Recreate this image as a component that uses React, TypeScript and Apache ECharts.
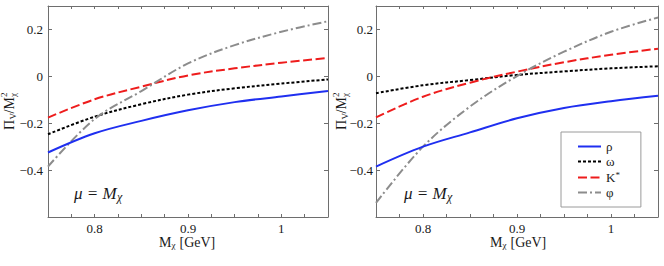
import React, { useEffect, useRef } from "react";
import * as echarts from "echarts";

const xValues = [0.75, 0.8, 0.85, 0.9, 0.95, 1.0, 1.05];

// Left panel
const rhoLeft = [-0.325, -0.243, -0.19, -0.145, -0.11, -0.086, -0.063];
const omegaLeft = [-0.247, -0.172, -0.119, -0.078, -0.051, -0.031, -0.013];
const kstarLeft = [-0.176, -0.098, -0.044, 0.004, 0.034, 0.058, 0.078];
const phiLeft = [-0.385, -0.182, -0.063, 0.055, 0.133, 0.19, 0.235];

// Right panel
const rhoRight = [-0.385, -0.3, -0.239, -0.179, -0.135, -0.106, -0.083];
const omegaRight = [-0.072, -0.038, -0.016, 0.006, 0.021, 0.034, 0.043];
const kstarRight = [-0.175, -0.087, -0.027, 0.02, 0.06, 0.092, 0.118];
const phiRight = [-0.54, -0.3, -0.129, 0.001, 0.105, 0.19, 0.251];

const seriesNames = ["ρ", "ω", "K*", "φ"];
const xTickLabels = ["0.8", "0.9", "1"];
const yTickLabels = ["−0.4", "−0.2", "0", "0.2"];

const FONT = "'Liberation Serif', 'DejaVu Serif', serif";
const FRAME = "#6e6e6e";
const TXT = "#1a1a1a";

const lineStyles: Record<string, any> = {
  "ρ": { color: "#1f2ff0", width: 2, type: "solid" },
  "ω": { color: "#000000", width: 2, type: [3, 2] },
  "K*": { color: "#ee1c1c", width: 2, type: [9, 3.5] },
  "φ": { color: "#8c8c8c", width: 2, type: [9, 3, 2, 3] },
};

function fmtX(v: number) {
  const r = Math.round(v * 1000) / 1000;
  if (r === 0.8) return xTickLabels[0];
  if (r === 0.9) return xTickLabels[1];
  if (r === 1) return xTickLabels[2];
  return "";
}
function fmtY(v: number) {
  const r = Math.round(v * 1000) / 1000;
  if (r === -0.4) return yTickLabels[0];
  if (r === -0.2) return yTickLabels[1];
  if (r === 0) return yTickLabels[2];
  if (r === 0.2) return yTickLabels[3];
  return "";
}

function xAxis(gridIndex: number, position: string, showLabel: boolean) {
  return {
    type: "value",
    gridIndex,
    position,
    min: 0.75,
    max: 1.05,
    interval: 0.025,
    axisLine: { show: true, onZero: false, lineStyle: { color: FRAME, width: 1 } },
    axisTick: { show: true, inside: true, length: 3, lineStyle: { color: FRAME } },
    axisLabel: {
      show: showLabel,
      formatter: fmtX,
      margin: 5,
      color: TXT,
      fontFamily: FONT,
      fontSize: 13,
    },
    splitLine: { show: false },
  };
}
function yAxis(gridIndex: number, position: string, showLabel: boolean, margin: number) {
  return {
    type: "value",
    gridIndex,
    position,
    min: -0.6,
    max: 0.3,
    interval: 0.2,
    axisLine: { show: true, onZero: false, lineStyle: { color: FRAME, width: 1 } },
    axisTick: { show: true, inside: true, length: 4, lineStyle: { color: FRAME } },
    axisLabel: {
      show: showLabel,
      formatter: fmtY,
      margin,
      color: TXT,
      fontFamily: FONT,
      fontSize: 13,
    },
    splitLine: { show: false },
  };
}

function mk(name: string, data: number[], panel: number) {
  return {
    type: "line",
    name,
    xAxisIndex: panel * 2,
    yAxisIndex: panel * 2,
    data: xValues.map((x, i) => [x, data[i]]),
    smooth: 0.35,
    symbol: "none",
    showSymbol: false,
    itemStyle: { color: lineStyles[name].color },
    lineStyle: lineStyles[name],
    z: name === "ρ" ? 3 : 2,
  };
}

function txt(text: string, x: number, y: number, size: number, italic = false, align = "left") {
  const font = `${italic ? "italic " : ""}${size}px ${FONT}`;
  return {
    type: "text",
    x,
    y,
    style: {
      text,
      font,
      fill: TXT,
      textAlign: align,
      textVerticalAlign: "middle",
      align,
      verticalAlign: "middle",
    },
  };
}

function yName(x: number) {
  return {
    type: "group",
    x,
    y: 130,
    rotation: Math.PI / 2,
    children: [
      txt("Π", 0, 0, 14),
      txt("V", 10.5, 4, 9),
      txt("/M", 16.5, 0, 14),
      txt("χ", 33, 4, 9),
      txt("2", 33, -5, 9),
    ],
  };
}

function xName(x: number) {
  return {
    type: "group",
    x,
    y: 242,
    children: [txt("M", 0, 0, 14), txt("χ", 12.5, 3, 9), txt(" [GeV]", 17, 0, 14)],
  };
}

function muText(x: number) {
  return {
    type: "group",
    x,
    y: 193,
    children: [txt("μ = M", 0, 0, 17, true), txt("χ", 43, 4, 12, true)],
  };
}

const option: any = {
  animation: false,
  backgroundColor: "#ffffff",
  grid: [
    { left: 48, top: 6, width: 280, height: 211 },
    { left: 376, top: 6, width: 282, height: 211 },
  ],
  xAxis: [
    xAxis(0, "bottom", true),
    xAxis(0, "top", false),
    xAxis(1, "bottom", true),
    xAxis(1, "top", false),
  ],
  yAxis: [
    yAxis(0, "left", true, 5),
    yAxis(0, "right", false, 5),
    yAxis(1, "left", true, 3),
    yAxis(1, "right", false, 5),
  ],
  legend: {
    data: seriesNames,
    orient: "vertical",
    left: 561,
    top: 132,
    padding: [8, 21, 8, 16],
    itemWidth: 23,
    itemHeight: 10,
    itemGap: 2,
    borderColor: "#9a9a9a",
    borderWidth: 1,
    backgroundColor: "#ffffff",
    itemStyle: { opacity: 0 },
    formatter: (n: string) => (n === "K*" ? "K{s|*}" : n),
    textStyle: {
      fontFamily: FONT,
      fontSize: 13,
      color: TXT,
      rich: {
        s: { fontFamily: FONT, fontSize: 9, color: TXT, padding: [0, 0, 6, 0] },
      },
    },
  },
  graphic: [yName(9), yName(341), xName(159), xName(490), muText(74), muText(404)],
  series: [
    mk("ρ", rhoLeft, 0),
    mk("ω", omegaLeft, 0),
    mk("K*", kstarLeft, 0),
    mk("φ", phiLeft, 0),
    mk("ρ", rhoRight, 1),
    mk("ω", omegaRight, 1),
    mk("K*", kstarRight, 1),
    mk("φ", phiRight, 1),
  ],
};

export default function App() {
  const ref = useRef<HTMLDivElement>(null);
  useEffect(() => {
    const chart = echarts.init(ref.current!, null, { renderer: "svg" });
    chart.setOption(option);
    return () => chart.dispose();
  }, []);
  return (
    <div
      ref={ref}
      style={{ position: "fixed", left: 0, top: 0, width: 664, height: 266, background: "#fff" }}
    />
  );
}
